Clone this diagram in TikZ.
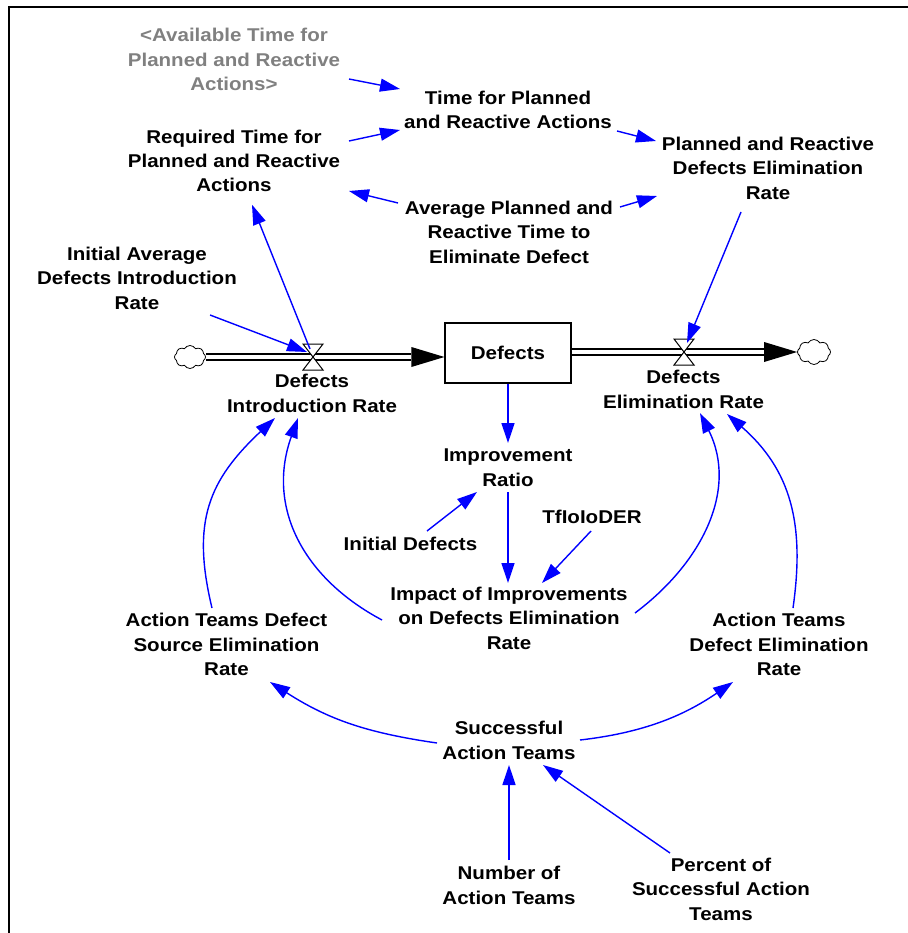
\documentclass[tikz,border=0pt]{standalone}
\usepackage{fontspec}
\newfontfamily\labfont{Liberation Sans}[FakeStretch=1.11]
\usetikzlibrary{arrows.meta,shapes.symbols}
\definecolor{linkblue}{RGB}{0,0,255}
\definecolor{shadowgray}{RGB}{128,128,128}
% multi-line centred label with uniform line spacing
\newcommand\ml[1]{\begin{tabular}{@{}c@{}}#1\end{tabular}}
\tikzset{
  lab/.style={font=\labfont\bfseries\fontsize{18.5}{24.4}\selectfont, inner sep=0pt, text=black},
  shadowlab/.style={lab, text=shadowgray},
  infolink/.style={draw=linkblue, line width=1.4pt, -{Triangle[length=20pt,width=13pt]}},
  pipe/.style={draw=black, line width=2.2pt, double=white, double distance=3.6pt},
  stock/.style={lab, draw=black, line width=1.2pt, minimum width=126pt, minimum height=60pt},
  cloudnode/.style={cloud, cloud puffs=8, cloud puff arc=120, aspect=1.35, draw=black,
    line width=0.8pt, fill=white, minimum width=31pt, minimum height=23pt, inner sep=0pt},
  valve/.style={minimum width=22pt, minimum height=28pt, inner sep=0pt,
    path picture={\draw[line width=1pt, fill=white] (path picture bounding box.center)
      ++(-10,-13) -- ++(20,0) -- ++(-20,26) -- ++(20,0) -- cycle;}}
}
\begin{document}
\begin{tikzpicture}[x=1pt,y=-1pt]
\useasboundingbox (0,0) rectangle (907,933);
\fill[white] (0,0) rectangle (907,933);
% frame
\draw[line width=2pt] (9,940) -- (9,7.3) -- (915,7.3);

% variables
\node[shadowlab] (avail) at (234,61.4) {\ml{<Available Time for\\Planned and Reactive\\Actions>}};
\node[lab] (timefor) at (508,111.8) {\ml{Time for Planned\\and Reactive Actions}};
\node[lab] (req) at (234,162.7) {\ml{Required Time for\\Planned and Reactive\\Actions}};
\node[lab] (prder) at (768,170) {\ml{Planned and Reactive\\Defects Elimination\\Rate}};
\node[lab] (avg) at (509,234) {\ml{Average Planned and\\Reactive Time to\\Eliminate Defect}};
\node[lab] (iadir) at (137,280) {\ml{Initial Average\\Defects Introduction\\Rate}};
\node[stock] (defects) at (508,353) {Defects};
\node[cloudnode] (clL) at (190,357) {};
\node[cloudnode, minimum width=33pt, minimum height=25pt] (clR) at (814,352) {};
\node[lab] (dir) at (312,395) {\ml{Defects\\Introduction Rate}};
\node[lab] (der) at (683.5,391) {\ml{Defects\\Elimination Rate}};
\node[lab] (impr) at (508,469) {\ml{Improvement\\Ratio}};
\node[lab] (initdef) at (410.5,546) {\ml{Initial Defects}};
\node[lab] (tfi) at (592,519) {\ml{TfIoIoDER}};
\node[lab] (impact) at (509,620) {\ml{Impact of Improvements\\on Defects Elimination\\Rate}};
\node[lab] (atdser) at (226.5,646.5) {\ml{Action Teams Defect\\Source Elimination\\Rate}};
\node[lab] (atder) at (779,646.5) {\ml{Action Teams\\Defect Elimination\\Rate}};
\node[lab] (succ) at (509,742) {\ml{Successful\\Action Teams}};
\node[lab] (num) at (509,887) {\ml{Number of\\Action Teams}};
\node[lab] (pct) at (721,891) {\ml{Percent of\\Successful Action\\Teams}};

% flows
\draw[pipe, shorten >=33pt] (clL) -- ([yshift=-4pt]defects.west);
\fill ([yshift=-4pt]defects.west) -- ++(-33,-10) -- ++(0,20) -- cycle;
\draw[pipe, shorten >=33pt] ([yshift=1pt]defects.east) -- (clR);
\fill (clR.west) -- ++(-33,-10) -- ++(0,20) -- cycle;
\node[valve] (vl) at (313,357) {};
\node[valve] (vr) at (684,352) {};

% information links
\draw[infolink] ([shift={(115,17.6)}]avail.center) -- ([shift={(-108,-22.8)}]timefor.center);
\draw[infolink] ([shift={(115,-21.7)}]req.center) -- ([shift={(-108,18.2)}]timefor.center);
\draw[infolink] ([shift={(-111,-31)}]avg.center) -- ([shift={(115,28.3)}]req.center);
\draw[infolink] ([shift={(109,19.2)}]timefor.center) -- ([shift={(-112,-29)}]prder.center);
\draw[infolink] ([shift={(111,-27)}]avg.center) -- ([shift={(-111,26)}]prder.center);
\draw[infolink] ([shift={(-3,-8)}]vl.center) -- ([shift={(18,42)}]req.center);
\draw[infolink] ([shift={(73,35)}]iadir.center) -- ([shift={(-6,-5)}]vl.center);
\draw[infolink] ([shift={(-27,42)}]prder.center) -- ([shift={(3,-9)}]vr.center);
\draw[infolink] (defects.south) -- ([shift={(0,-26)}]impr.center);
\draw[infolink] ([shift={(16.5,-15)}]initdef.center) -- ([shift={(-31,23)}]impr.center);
\draw[infolink] ([shift={(0,23)}]impr.center) -- ([shift={(-1,-37)}]impact.center);
\draw[infolink] ([shift={(-1,12)}]tfi.center) -- ([shift={(33,-37)}]impact.center);
\draw[infolink] ([shift={(0,-27)}]num.center) -- ([shift={(0,23)}]succ.center);
\draw[infolink] ([shift={(-51,-38)}]pct.center) -- ([shift={(34,23)}]succ.center);

% curved links
\draw[infolink] ([shift={(-127,0)}]impact.center)
  .. controls +(-79,-42) and +(-32,89) .. ([shift={(-14,23)}]dir.center);
\draw[infolink] ([shift={(-14.5,-38.5)}]atdser.center)
  .. controls +(-21,-87) and +(-66,62) .. ([shift={(-37,23)}]dir.center);
\draw[infolink] ([shift={(126,-7)}]impact.center)
  .. controls +(68,-51) and +(38,76) .. ([shift={(16.5,22)}]der.center);
\draw[infolink] ([shift={(14,-38.5)}]atder.center)
  .. controls +(12,-84) and +(64,56) .. ([shift={(43.5,23)}]der.center);
\draw[infolink] ([shift={(-72,1)}]succ.center)
  .. controls +(-69,-10) and +(59,38) .. ([shift={(43.5,35.5)}]atdser.center);
\draw[infolink] ([shift={(71,-2)}]succ.center)
  .. controls +(61,-7) and +(-51,35) .. ([shift={(-46,35.5)}]atder.center);
\end{tikzpicture}
\end{document}
